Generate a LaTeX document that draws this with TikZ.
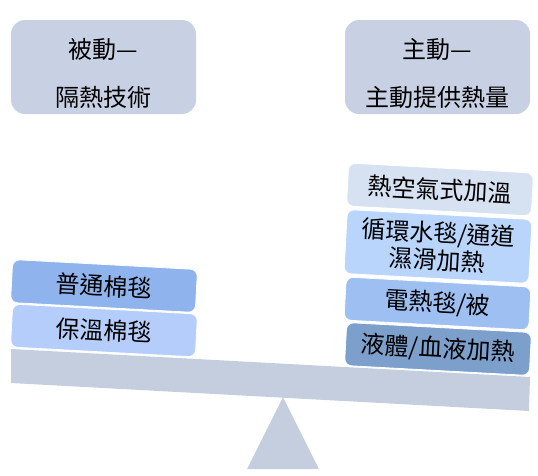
\documentclass[tikz,border=0pt]{standalone}
\usepackage{fontspec}
\setmainfont{Noto Sans CJK TC}
\definecolor{headfill}{HTML}{C8D0E3}
\definecolor{beamfill}{HTML}{C5CEDE}
\definecolor{plainblue}{HTML}{8FB3EC}
\definecolor{warmblue}{HTML}{B5CDFA}
\definecolor{airblue}{HTML}{D6E2F1}
\definecolor{waterblue}{HTML}{B9D5FC}
\definecolor{elecblue}{HTML}{9DBFF2}
\definecolor{fluidblue}{HTML}{7C9FCB}
\begin{document}
\begin{tikzpicture}[x=1pt,y=-1pt,line join=round,
	hdr/.style={fill=headfill,rounded corners=14pt,minimum width=185pt,minimum height=94pt,inner sep=0pt},
	hdrtext/.style={align=center,inner sep=0pt,font=\fontsize{24}{48}\selectfont},
	pad/.style={rounded corners=7pt,draw=white,line width=0.8pt,minimum width=185pt,minimum height=43pt,inner sep=0pt,rotate=-3.1,align=center,font=\fontsize{24}{27}\selectfont}]
	\useasboundingbox (0,0) rectangle (538,475);
	\node[hdr] (passive) at (103.5,67) {};
	\node[hdr] (active) at (437.5,67) {};
	\node[hdrtext] at ([yshift=-6pt]passive.center) {被動—\\隔熱技術};
	\node[hdrtext] at ([yshift=-6pt]active.center) {主動—\\主動提供熱量};
	\fill[beamfill] (11,349)--(530,377)--(529,411)--(11,383)--cycle;
	\fill[beamfill] (283,397)--(319,469)--(247,469)--cycle;
	\node[pad,fill=plainblue] (blanket) at (104,286) {普通棉毯};
	\node[pad,fill=warmblue] (warmblanket) at (104,330.5) {保溫棉毯};
	\node[pad,fill=airblue] (airwarm) at (440,189.5) {熱空氣式加溫};
	\node[pad,fill=waterblue,minimum height=64pt] (waterpad) at (438,246.5) {循環水毯/通道\\濕滑加熱};
	\node[pad,fill=elecblue] (elecpad) at (437.5,303.5) {電熱毯/被};
	\node[pad,fill=fluidblue] (fluidwarm) at (438,349) {液體/血液加熱};
\end{tikzpicture}
\end{document}
